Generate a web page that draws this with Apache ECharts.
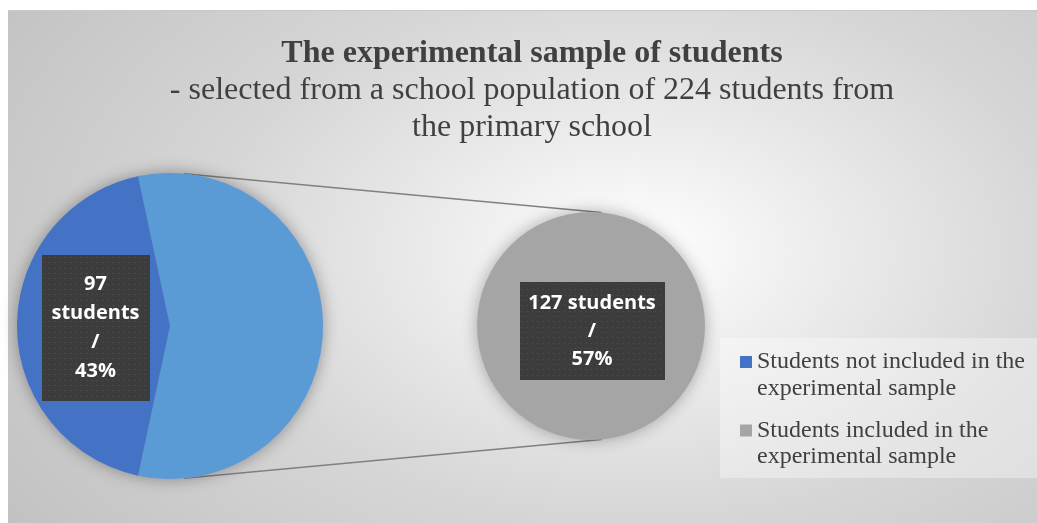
<!DOCTYPE html>
<html>
<head>
<meta charset="utf-8">
<script src="https://cdn.jsdelivr.net/npm/echarts@6/dist/echarts.min.js"></script>
<style>
  html, body { margin: 0; padding: 0; background: #ffffff; }
  #panel {
    position: absolute; left: 8px; top: 10px; width: 1029px; height: 513px;
    border-top: 1px solid #c9c9c9;
    background: radial-gradient(ellipse 75% 95% at 61% 47%, #ffffff 0%, #eeeeee 22%, #d6d6d6 55%, #c1c1c1 100%);
  }
  #chart { position: absolute; left: 0; top: 0; width: 1037px; height: 523px; }
</style>
</head>
<body>
<div id="panel"></div>
<div id="chart"></div>
<script>
// Students of the primary school (224 in total)
const groupNames = [
  'Students not included in the experimental sample',
  'Students included in the experimental sample'
];
const groupLegendLines = [
  ['Students not included in the', 'experimental sample'],
  ['Students included in the', 'experimental sample']
];
const groupCounts = [97, 127];
const groupColors = ['#4472C4', '#A5A5A5'];
const otherName = 'Other';
const otherColor = '#5B9BD5';

const total = groupCounts.reduce((a, b) => a + b, 0);
const pct = v => Math.round(v / total * 100);

// primary pie: the "included" part is collapsed into one slice and broken out on the right
const mainData = [
  { name: otherName, value: groupCounts[1], itemStyle: { color: otherColor }, label: { show: false } },
  { name: groupNames[0], value: groupCounts[0], itemStyle: { color: groupColors[0] } }
];
const secondData = [
  { name: groupNames[1], value: groupCounts[1], itemStyle: { color: groupColors[1] } }
];

// orientation: the broken-out slice is centred on the right side
const otherSweep = groupCounts[1] / total * 360;
const startAngle = 90 + (otherSweep - 180) / 2;

const C1 = [170, 326], R1 = 153;
const C2 = [591, 326], R2 = 114;
const tilt = 5.3 * Math.PI / 180;
const p = (c, r, s) => [c[0] + r * Math.sin(tilt), c[1] + s * r * Math.cos(tilt)];

// dotted dark fill for the data-label boxes, drawn at the exact box size
function dottedFill(w, h) {
  const cv = document.createElement('canvas');
  cv.width = w; cv.height = h;
  const ctx = cv.getContext('2d');
  ctx.fillStyle = '#3c3c3c';
  ctx.fillRect(0, 0, w, h);
  ctx.fillStyle = '#555555';
  for (let y = 2; y < h; y += 5.33) {
    for (let x = 2; x < w; x += 5.33) {
      ctx.fillRect(Math.round(x), Math.round(y), 1, 1);
    }
  }
  return { image: cv };
}

const boxLabel = {
  color: '#ffffff',
  fontFamily: 'Open Sans',
  fontWeight: 'bold',
  fontSize: 20,
  overflow: 'none',
  shadowColor: 'rgba(0,0,0,0.45)',
  shadowBlur: 5,
  shadowOffsetX: 2,
  shadowOffsetY: 3,
  align: 'center'
};

const chart = echarts.init(document.getElementById('chart'), null, { renderer: 'canvas' });
chart.setOption({
  backgroundColor: 'transparent',
  animation: false,
  title: {
    text: 'The experimental sample of students',
    subtext: '- selected from a school population of 224 students from\nthe primary school',
    left: 532,
    textAlign: 'center',
    top: 35,
    padding: 0,
    itemGap: 0,
    textStyle: { fontFamily: 'Liberation Serif', fontWeight: 'bold', fontSize: 32, lineHeight: 37, color: '#404040' },
    subtextStyle: { fontFamily: 'Liberation Serif', fontWeight: 'normal', fontSize: 32, lineHeight: 37, color: '#404040' }
  },
  legend: {
    data: groupNames,
    orient: 'vertical',
    left: 720,
    top: 338,
    itemWidth: 0,
    itemHeight: 0,
    itemGap: 18,
    padding: [12, 20, 9, 15],
    backgroundColor: 'rgba(255,255,255,0.35)',
    selectedMode: false,
    formatter: name => {
      const i = groupNames.indexOf(name);
      const lines = groupLegendLines[i];
      return `{m${i}|}{t|${lines[0]}}\n{s|}{t|${lines[1]}}`;
    },
    textStyle: {
      rich: {
        m0: { width: 12, height: 12, backgroundColor: groupColors[0], verticalAlign: 'middle' },
        m1: { width: 12, height: 12, backgroundColor: groupColors[1], verticalAlign: 'middle' },
        s: { width: 12 },
        t: { fontFamily: 'Liberation Serif', fontSize: 24, lineHeight: 26.5, color: '#404040', padding: [0, 0, 0, 5] }
      }
    }
  },
  series: [
    {
      // soft shadow under the primary pie
      type: 'pie', silent: true, z: 1,
      center: C1, radius: R1, startAngle,
      data: mainData.map(d => ({ name: d.name, value: d.value })),
      label: { show: false }, labelLine: { show: false },
      itemStyle: { color: '#8aa9d8', shadowBlur: 16, shadowColor: 'rgba(0,0,0,0.35)' }
    },
    {
      type: 'pie', z: 2,
      center: C1, radius: R1, startAngle, clockwise: true,
      avoidLabelOverlap: false,
      data: mainData,
      emphasis: { disabled: true },
      label: Object.assign({}, boxLabel, {
        position: 'inside',
        offset: [5, 2],
        width: 104,
        lineHeight: 29,
        padding: [21, 2, 9, 2],
        backgroundColor: dottedFill(108, 146),
        formatter: d => `${d.value}\nstudents\n/\n${pct(d.value)}%`
      }),
      labelLine: { show: false }
    },
    {
      type: 'pie', z: 2,
      center: C2, radius: R2,
      data: secondData,
      emphasis: { disabled: true },
      itemStyle: { shadowBlur: 16, shadowColor: 'rgba(0,0,0,0.3)' },
      label: Object.assign({}, boxLabel, {
        position: 'center',
        offset: [1, 5],
        width: 141,
        lineHeight: 28,
        padding: [12, 2, 2, 2],
        backgroundColor: dottedFill(145, 98),
        formatter: d => `${d.value} students\n/\n${pct(d.value)}%`
      }),
      labelLine: { show: false }
    }
  ],
  graphic: [
    { type: 'line', z: 0, shape: { x1: p(C1, R1, -1)[0], y1: p(C1, R1, -1)[1], x2: p(C2, R2, -1)[0], y2: p(C2, R2, -1)[1] }, style: { stroke: '#808080', lineWidth: 1.5 } },
    { type: 'line', z: 0, shape: { x1: p(C1, R1, 1)[0], y1: p(C1, R1, 1)[1], x2: p(C2, R2, 1)[0], y2: p(C2, R2, 1)[1] }, style: { stroke: '#808080', lineWidth: 1.5 } }
  ]
});
</script>
</body>
</html>
